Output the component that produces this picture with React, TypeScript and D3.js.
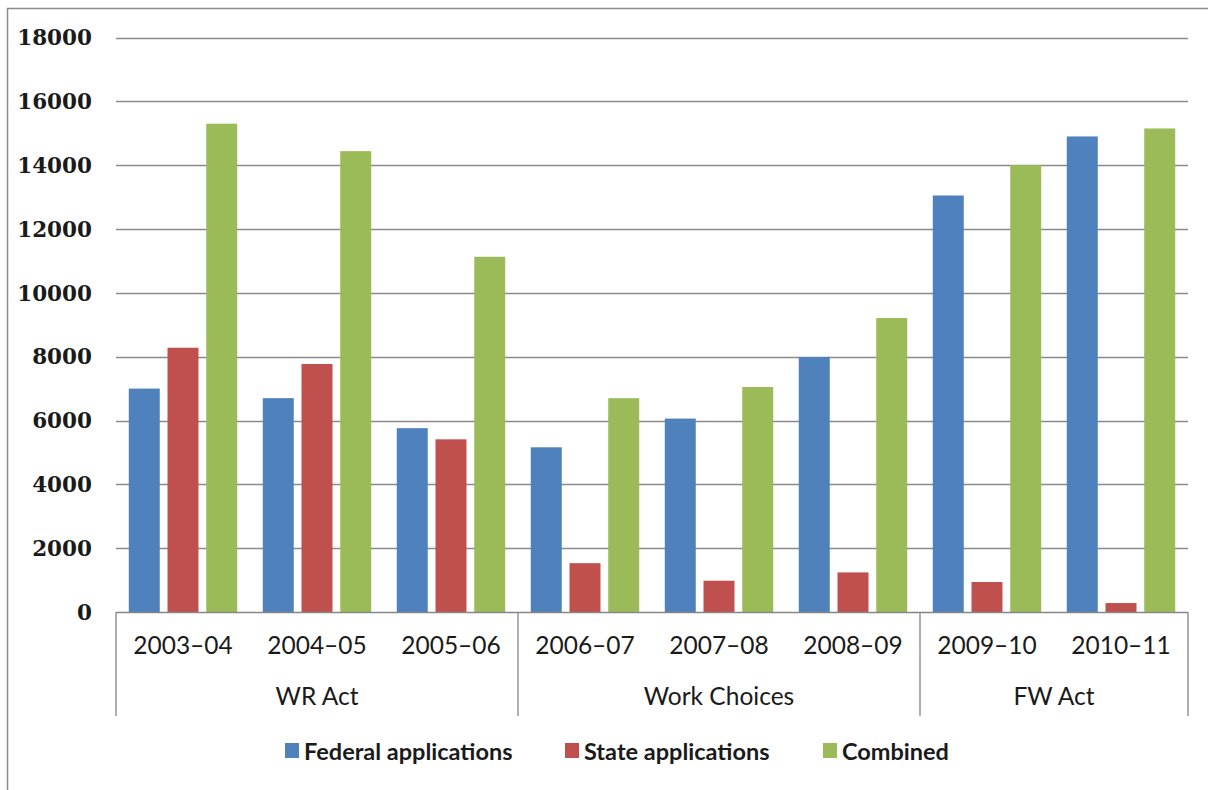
import React, { useEffect, useRef } from 'react';
import * as d3 from 'd3';

const years = ['2003–04', '2004–05', '2005–06', '2006–07', '2007–08', '2008–09', '2009–10', '2010–11'];
const groups = [
  { name: 'WR Act', from: 0, to: 3 },
  { name: 'Work Choices', from: 3, to: 6 },
  { name: 'FW Act', from: 6, to: 8 },
];
const seriesNames = ['Federal applications', 'State applications', 'Combined'];
const seriesColors = ['#4F81BD', '#C0504D', '#9BBB59'];
const federal = [7000, 6700, 5760, 5160, 6060, 7990, 13050, 14900];
const state = [8280, 7770, 5410, 1530, 980, 1240, 940, 280];
const combined = [15300, 14440, 11130, 6700, 7050, 9210, 14000, 15150];
const yTicks = [0, 2000, 4000, 6000, 8000, 10000, 12000, 14000, 16000, 18000];

const W = 1208;
const H = 790;

function App() {
  const svgRef = useRef<SVGSVGElement>(null);

  useEffect(() => {
    const svg = d3.select(svgRef.current);
    svg.selectAll('*').remove();

    const left = 116, right = 1188, top = 37.5, bottom = 612;
    const values = [federal, state, combined];

    const x0 = d3.scaleBand<string>().domain(years).range([left, right]).paddingInner(0).paddingOuter(0);
    const x1 = d3.scaleBand<string>().domain(seriesNames).range([0, x0.bandwidth()])
      .paddingInner(0.2).paddingOuter(0.33);
    const y = d3.scaleLinear().domain([0, 18000]).range([bottom, top]);

    // outer chart border
    svg.append('rect')
      .attr('x', 7.5).attr('y', 8.5)
      .attr('width', W + 10).attr('height', H + 10)
      .attr('fill', 'white').attr('stroke', '#8c8c8c').attr('stroke-width', 1.5);

    // gridlines
    svg.append('g').selectAll('line')
      .data(yTicks.filter(d => d > 0))
      .join('line')
      .attr('x1', left).attr('x2', right)
      .attr('y1', d => Math.round(y(d)) + 0.5).attr('y2', d => Math.round(y(d)) + 0.5)
      .attr('stroke', '#8a8a8a').attr('stroke-width', 1.6);

    // tick labels
    svg.append('g').selectAll('text')
      .data(yTicks)
      .join('text')
      .attr('x', 92).attr('y', d => y(d))
      .attr('dy', '0.36em')
      .attr('text-anchor', 'end')
      .attr('font-family', '"DejaVu Serif", serif')
      .attr('font-weight', 'bold')
      .attr('font-size', 21.5)
      .attr('fill', '#1a1a1a')
      .text(d => d);

    // bars
    values.forEach((vals, si) => {
      svg.append('g').selectAll('rect')
        .data(vals)
        .join('rect')
        .attr('x', (d, i) => x0(years[i])! + x1(seriesNames[si])!)
        .attr('width', x1.bandwidth())
        .attr('y', d => y(d))
        .attr('height', d => y(0) - y(d))
        .attr('fill', seriesColors[si]);
    });

    // category axis line
    svg.append('line')
      .attr('x1', left).attr('x2', right)
      .attr('y1', bottom + 0.5).attr('y2', bottom + 0.5)
      .attr('stroke', '#868686').attr('stroke-width', 1.6);

    // year labels
    svg.append('g').selectAll('text')
      .data(years)
      .join('text')
      .attr('x', d => x0(d)! + x0.bandwidth() / 2)
      .attr('y', 654)
      .attr('text-anchor', 'middle')
      .attr('font-family', 'Lato, sans-serif')
      .attr('font-size', 24.5)
      .attr('fill', '#1a1a1a')
      .text(d => d);

    // group separators
    const seps = [0, ...groups.map(g => g.to)];
    svg.append('g').selectAll('line')
      .data(seps)
      .join('line')
      .attr('x1', i => i < years.length ? x0(years[i])! : right)
      .attr('x2', i => i < years.length ? x0(years[i])! : right)
      .attr('y1', bottom).attr('y2', 716)
      .attr('stroke', '#868686').attr('stroke-width', 1.3);

    // group labels
    svg.append('g').selectAll('text')
      .data(groups)
      .join('text')
      .attr('x', g => {
        const a = x0(years[g.from])!;
        const b = g.to < years.length ? x0(years[g.to])! : right;
        return (a + b) / 2;
      })
      .attr('y', 705)
      .attr('text-anchor', 'middle')
      .attr('font-family', 'Lato, sans-serif')
      .attr('font-size', 24.5)
      .attr('fill', '#1a1a1a')
      .text(g => g.name);

    // legend
    const legendX = [285, 565, 823];
    const legend = svg.append('g').selectAll('g')
      .data(seriesNames)
      .join('g')
      .attr('transform', (d, i) => `translate(${legendX[i]},743)`);
    legend.append('rect')
      .attr('width', 14).attr('height', 15)
      .attr('fill', (d, i) => seriesColors[i]);
    legend.append('text')
      .attr('x', 19).attr('y', 17)
      .attr('font-family', 'Lato, sans-serif')
      .attr('font-weight', 'bold')
      .attr('font-size', 23.5)
      .attr('fill', '#1a1a1a')
      .text(d => d);
  }, []);

  return (
    <div style={{ position: 'absolute', left: 0, top: 0 }}>
      <svg ref={svgRef} width={W} height={H} style={{ display: 'block' }} />
    </div>
  );
}

export default App;
